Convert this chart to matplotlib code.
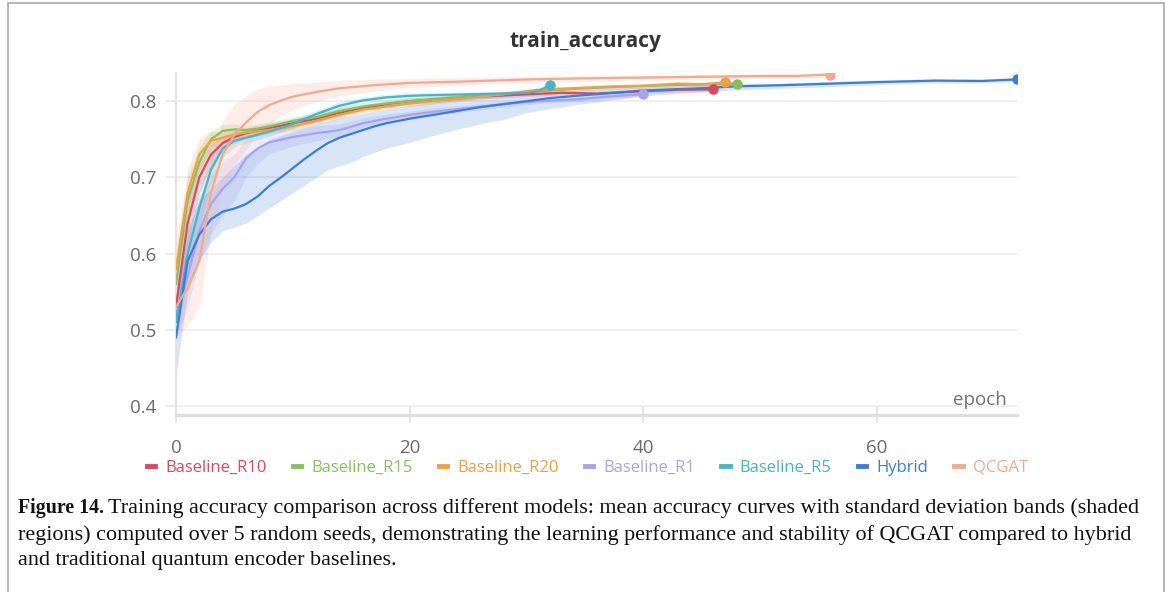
import matplotlib.pyplot as plt
from matplotlib.patches import Rectangle
import numpy as np

# mean train accuracy per model, read at selected epochs
r10_ep = [0, 1, 2, 3, 4, 5, 6, 8, 10, 12, 14, 16, 18, 20, 23, 26, 30, 33, 36, 40, 43, 46]
r10_acc = [0.53, 0.64, 0.70, 0.73, 0.745, 0.753, 0.758, 0.765, 0.771, 0.777, 0.785, 0.791, 0.796, 0.800,
           0.803, 0.806, 0.809, 0.811, 0.810, 0.813, 0.815, 0.8155]
r10_sd = [0.03, 0.03, 0.02, 0.015, 0.01, 0.008, 0.007, 0.006, 0.006, 0.005, 0.005, 0.004, 0.004, 0.004,
          0.004, 0.003, 0.003, 0.003, 0.003, 0.003, 0.003, 0.003]

r15_ep = [0, 1, 2, 3, 4, 5, 6, 7, 8, 10, 12, 14, 16, 18, 20, 23, 26, 30, 34, 38, 42, 45, 48]
r15_acc = [0.56, 0.67, 0.72, 0.75, 0.761, 0.763, 0.762, 0.764, 0.767, 0.774, 0.779, 0.787, 0.793, 0.797,
           0.800, 0.804, 0.808, 0.812, 0.816, 0.819, 0.821, 0.822, 0.823]
r15_sd = [0.03, 0.03, 0.02, 0.012, 0.008, 0.007, 0.006, 0.006, 0.006, 0.005, 0.005, 0.004, 0.004, 0.004,
          0.004, 0.003, 0.003, 0.003, 0.003, 0.003, 0.003, 0.003, 0.003]

r20_ep = [0, 1, 2, 3, 4, 5, 6, 8, 10, 12, 14, 16, 18, 20, 22, 25, 28, 31, 34, 37, 40, 43, 45, 47]
r20_acc = [0.58, 0.68, 0.73, 0.748, 0.752, 0.756, 0.759, 0.762, 0.767, 0.774, 0.782, 0.789, 0.793, 0.797,
           0.800, 0.804, 0.809, 0.815, 0.817, 0.819, 0.820, 0.823, 0.822, 0.8246]
r20_sd = [0.03, 0.03, 0.02, 0.012, 0.008, 0.007, 0.006, 0.006, 0.006, 0.005, 0.005, 0.004, 0.004, 0.004,
          0.004, 0.003, 0.003, 0.003, 0.003, 0.003, 0.003, 0.003, 0.003, 0.003]

r1_ep = [0, 1, 2, 3, 4, 5, 6, 7, 8, 10, 12, 14, 16, 18, 20, 22, 25, 28, 31, 34, 37, 40]
r1_acc = [0.52, 0.57, 0.63, 0.665, 0.685, 0.70, 0.725, 0.738, 0.746, 0.753, 0.758, 0.762, 0.771, 0.777,
          0.782, 0.786, 0.791, 0.796, 0.800, 0.802, 0.806, 0.809]
r1_sd = [0.03, 0.04, 0.04, 0.04, 0.035, 0.03, 0.025, 0.02, 0.015, 0.012, 0.01, 0.008, 0.007, 0.006,
         0.005, 0.005, 0.004, 0.004, 0.003, 0.003, 0.003, 0.003]

r5_ep = [0, 1, 2, 3, 4, 5, 6, 8, 10, 12, 14, 16, 18, 20, 22, 25, 28, 30, 31, 32]
r5_acc = [0.51, 0.60, 0.66, 0.71, 0.738, 0.748, 0.752, 0.760, 0.770, 0.783, 0.794, 0.801, 0.805, 0.807,
          0.808, 0.809, 0.810, 0.811, 0.813, 0.821]
r5_sd = [0.03, 0.03, 0.025, 0.02, 0.012, 0.008, 0.007, 0.006, 0.006, 0.005, 0.005, 0.004, 0.004, 0.004,
         0.003, 0.003, 0.003, 0.003, 0.003, 0.003]

hyb_ep = [0, 1, 2, 3, 4, 5, 6, 7, 8, 9, 10, 11, 12, 13, 14, 15, 16, 17, 18, 20, 22, 24, 26, 28, 30, 32,
          35, 40, 45, 48, 52, 56, 60, 65, 69, 72]
hyb_acc = [0.49, 0.59, 0.625, 0.645, 0.655, 0.659, 0.665, 0.675, 0.689, 0.700, 0.712, 0.724, 0.735, 0.745,
           0.752, 0.757, 0.762, 0.767, 0.771, 0.777, 0.782, 0.787, 0.792, 0.796, 0.800, 0.804,
           0.808, 0.814, 0.817, 0.8195, 0.821, 0.823, 0.825, 0.827, 0.8265, 0.8286]
hyb_lo = [0.44, 0.55, 0.59, 0.615, 0.63, 0.635, 0.64, 0.65, 0.66, 0.67, 0.68, 0.69, 0.70, 0.71,
          0.715, 0.72, 0.727, 0.733, 0.738, 0.746, 0.755, 0.763, 0.77, 0.776, 0.785, 0.79,
          0.797, 0.807, 0.812, 0.815, 0.817, 0.819, 0.822, 0.824, 0.824, 0.826]
hyb_hi = [0.53, 0.63, 0.67, 0.685, 0.70, 0.715, 0.73, 0.74, 0.75, 0.755, 0.76, 0.765, 0.77, 0.774,
          0.778, 0.781, 0.784, 0.787, 0.789, 0.795, 0.799, 0.802, 0.805, 0.808, 0.81, 0.812,
          0.815, 0.818, 0.821, 0.823, 0.824, 0.826, 0.828, 0.829, 0.829, 0.831]

qc_ep = [0, 1, 2, 3, 4, 5, 6, 7, 8, 9, 10, 12, 14, 17, 20, 25, 30, 35, 40, 45, 50, 53, 56]
qc_acc = [0.53, 0.555, 0.59, 0.68, 0.73, 0.756, 0.772, 0.786, 0.795, 0.801, 0.806, 0.812, 0.817, 0.821,
          0.824, 0.826, 0.8285, 0.830, 0.831, 0.832, 0.833, 0.833, 0.835]
qc_sd = [0.04, 0.05, 0.06, 0.05, 0.045, 0.04, 0.035, 0.03, 0.025, 0.02, 0.017, 0.013, 0.01, 0.008,
         0.006, 0.005, 0.004, 0.004, 0.003, 0.003, 0.003, 0.003, 0.003]

labels = ["Baseline_R10", "Baseline_R15", "Baseline_R20", "Baseline_R1", "Baseline_R5", "Hybrid", "QCGAT"]
colors = ["#e0475b", "#85c25e", "#efa043", "#a8a2f2", "#45b5c9", "#3b7ddb", "#f4a98c"]

caption = [
    "Training accuracy comparison across different models: mean accuracy curves with standard deviation bands (shaded",
    "regions) computed over 5 random seeds, demonstrating the learning performance and stability of QCGAT compared to hybrid",
    "and traditional quantum encoder baselines.",
]

plt.rcParams["font.family"] = ["Open Sans", "DejaVu Sans"]

fig = plt.figure(figsize=(11.7, 5.92), dpi=100)
ax = fig.add_axes([0.1504, 0.299, 0.7188, 0.5777])

series = [
    (r10_ep, r10_acc, r10_sd, None),
    (r15_ep, r15_acc, r15_sd, None),
    (r20_ep, r20_acc, r20_sd, None),
    (r1_ep, r1_acc, r1_sd, None),
    (r5_ep, r5_acc, r5_sd, None),
    (hyb_ep, hyb_acc, hyb_lo, hyb_hi),
    (qc_ep, qc_acc, qc_sd, None),
]

for (ep, acc, a, b), lab, c in zip(series, labels, colors):
    ep = np.array(ep)
    acc = np.array(acc)
    if b is None:
        lo, hi = acc - np.array(a), acc + np.array(a)
    else:
        lo, hi = np.array(a), np.array(b)
    ax.fill_between(ep, lo, hi, color=c, alpha=0.2, lw=0, zorder=1)

handles = []
for (ep, acc, a, b), lab, c in zip(series, labels, colors):
    ln, = ax.plot(ep, acc, color=c, lw=1.6, label=lab, zorder=3, solid_joinstyle="round")
    ax.plot(ep[-1], acc[-1], "o", color=c, ms=6.5, zorder=4)
    handles.append(ln)

ax.set_xlim(0, 72)
ax.set_ylim(0.388, 0.837)
ax.set_xticks([0, 20, 40, 60])
ax.set_yticks([0.4, 0.5, 0.6, 0.7, 0.8])
ax.yaxis.grid(True, color="#ececec", lw=1.2)
ax.set_axisbelow(True)
for s in ["top", "right"]:
    ax.spines[s].set_visible(False)
ax.spines["left"].set_color("#e3e3e3")
ax.spines["left"].set_linewidth(1.6)
ax.spines["bottom"].set_color("#dedede")
ax.spines["bottom"].set_linewidth(2.4)
ax.tick_params(axis="x", direction="inout", length=12, width=1.2, color="#e3e3e3",
               labelsize=13.5, labelcolor="#6b6b6b", pad=11)
ax.tick_params(axis="y", direction="out", length=7, width=1.2, color="#e8e8e8",
               labelsize=13.5, labelcolor="#6b6b6b", pad=7)
ax.text(0.988, 0.018, "epoch", transform=ax.transAxes, ha="right", va="bottom",
        fontsize=13.5, color="#707070")

fig.text(585 / 1170, 1 - 42 / 592, "train_accuracy", ha="center", va="center",
         fontsize=15, fontweight="bold", color="#333333")

leg = fig.legend(handles=handles, loc="center", bbox_to_anchor=(0.502, 1 - 468 / 592), ncol=7,
                 frameon=False, handlelength=0.5, handletextpad=0.6, columnspacing=1.58,
                 fontsize=12, labelcolor="linecolor")
for h in leg.legend_handles:
    h.set_linewidth(3.5)

# caption underneath
renderer = fig.canvas.get_renderer()
cap_x = 18 / 1170
cap_y = [1 - 508 / 592, 1 - 535 / 592, 1 - 561 / 592]
t = fig.text(cap_x, cap_y[0], "Figure 14.", fontfamily="Liberation Serif", fontweight="bold",
             fontsize=14.3, va="center", color="#111111")
bb = t.get_window_extent(renderer)
fig.text(bb.x1 / 1170 + 4 / 1170, cap_y[0], caption[0], fontfamily="Liberation Serif",
         fontsize=15.9, va="center", color="#111111")
for line, y in zip(caption[1:], cap_y[1:]):
    fig.text(cap_x, y, line, fontfamily="Liberation Serif", fontsize=15.9, va="center", color="#111111")

# thin frame around the figure
fig.patches.append(Rectangle((8 / 1170, -0.05), 1156 / 1170, 1.05 - 3 / 592, transform=fig.transFigure,
                             fill=False, ec="#a8a8a8", lw=1.2))

fig.savefig("out.png", dpi=100)
